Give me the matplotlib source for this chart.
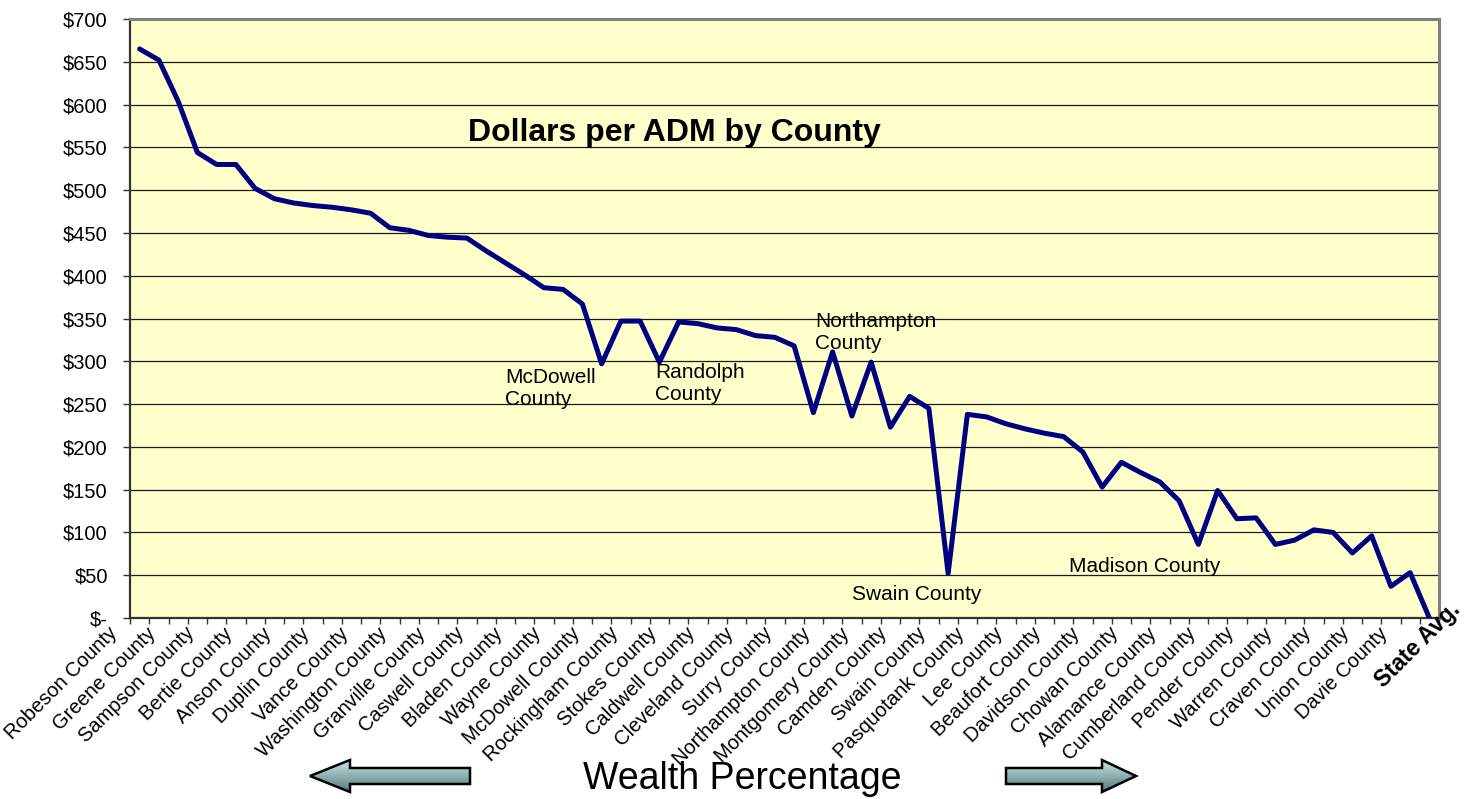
#!/usr/bin/env python
# -*- coding: utf-8 -*-
"""Dollars per ADM by County - line chart with wealth arrows"""

import numpy as np
import matplotlib
matplotlib.use('Agg')
import matplotlib.pyplot as plt
import matplotlib.transforms as mtransforms
from matplotlib.patches import Polygon
from matplotlib.ticker import FuncFormatter, MultipleLocator, FixedLocator

plt.rcParams['font.family'] = ['Liberation Sans', 'DejaVu Sans']

# dollars per ADM, one value per county (68 categories, last = state average)
values = [665, 652, 604, 544, 530, 530, 502, 490, 485, 482,
          480, 477, 473, 456, 453, 447, 445, 444, 429, 415,
          401, 386, 384, 367, 297, 347, 347, 299, 346, 344,
          339, 337, 330, 328, 318, 240, 311, 236, 299, 223,
          259, 245, 52, 238, 235, 227, 221, 216, 212, 194,
          153, 182, 170, 159, 137, 86, 149, 116, 117, 86,
          91, 103, 100, 76, 96, 37, 53, 0]

# only every other category is labelled on the axis
labeled_counties = ['Robeson', 'Greene', 'Sampson', 'Bertie', 'Anson', 'Duplin',
                    'Vance', 'Washington', 'Granville', 'Caswell', 'Bladen',
                    'Wayne', 'McDowell', 'Rockingham', 'Stokes', 'Caldwell',
                    'Cleveland', 'Surry', 'Northampton', 'Montgomery', 'Camden',
                    'Swain', 'Pasquotank', 'Lee', 'Beaufort', 'Davidson',
                    'Chowan', 'Alamance', 'Cumberland', 'Pender', 'Warren',
                    'Craven', 'Union', 'Davie']
tick_labels = [c + ' County' for c in labeled_counties]

W, H = 1469, 799
fig = plt.figure(figsize=(W / 100, H / 100), dpi=100)
ax = fig.add_axes([130 / W, 181 / H, 1309 / W, 599 / H])
ax.set_facecolor('#FFFFCC')

x = np.arange(len(values))
ax.plot(x, values, color='#000080', linewidth=3.6, solid_joinstyle='round',
        solid_capstyle='round', zorder=3)

ax.set_xlim(-0.5, len(values) - 0.5)
ax.set_ylim(0, 700)

# y axis
ax.yaxis.set_major_locator(MultipleLocator(50))
ax.yaxis.set_major_formatter(FuncFormatter(
    lambda v, p: '$-' if v == 0 else '${:d}'.format(int(v))))
ax.yaxis.grid(True, color='#1a1a1a', linewidth=0.9)
ax.set_axisbelow(True)
ax.tick_params(axis='y', direction='out', length=5, width=1, pad=11,
               labelsize=14.5, color='#333333')

# x axis: ticks between categories, labels on every other category
ax.set_xticks(x[::2][:len(tick_labels)])
ax.set_xticklabels(tick_labels)
ax.xaxis.set_minor_locator(FixedLocator(np.arange(-0.5, len(values), 1)))
ax.tick_params(axis='x', which='major', length=0, pad=9, labelsize=14.5)
ax.tick_params(axis='x', which='minor', direction='out', length=4, width=1,
               color='#333333')
offset = mtransforms.ScaledTranslation(-0.25, 0, fig.dpi_scale_trans)
for lbl in ax.get_xticklabels():
    lbl.set_rotation(45)
    lbl.set_ha('right')
    lbl.set_va('center')
    lbl.set_rotation_mode('anchor')
    lbl.set_transform(lbl.get_transform() + offset)

for side in ['left', 'bottom']:
    ax.spines[side].set_color('#333333')
    ax.spines[side].set_linewidth(1.6)
for side in ['top', 'right']:
    ax.spines[side].set_color('#808080')
    ax.spines[side].set_linewidth(2.2)

# title inside the plot
ax.text(0.4156, 0.81, 'Dollars per ADM by County', transform=ax.transAxes,
        ha='center', va='center', fontsize=23, fontweight='bold')

# county call-outs
notes = [('McDowell\nCounty', 18.98, 292, 'top'),
         ('Randolph\nCounty', 26.77, 298, 'top'),
         ('Northampton\nCounty', 35.1, 358, 'top'),
         ('Swain County', 37.0, 27, 'center'),
         ('Madison County', 48.3, 60, 'center')]
for txt, nx, ny, va in notes:
    ax.text(nx, ny, txt, ha='left', va=va, fontsize=15, linespacing=1.2,
            zorder=4)

# state average label
ax.annotate('State Avg.', xy=(len(values) - 1, 0), xytext=(20, 9),
            textcoords='offset points', rotation=45, rotation_mode='anchor',
            ha='right', va='center', fontsize=16.5, fontweight='bold',
            zorder=6, annotation_clip=False)

# x axis title and arrows (pixel overlay)
fig.text(742 / W, 1 - 779 / H, 'Wealth Percentage', ha='center', va='center',
         fontsize=27)

deco = fig.add_axes([0, 0, 1, 1], zorder=5)
deco.set_xlim(0, W)
deco.set_ylim(H, 0)
deco.axis('off')

left_arrow = [(310, 776), (350, 760), (350, 768), (470, 768), (470, 784),
              (350, 784), (350, 792)]
right_arrow = [(1006, 768), (1102, 768), (1102, 760), (1136, 776),
               (1102, 792), (1102, 784), (1006, 784)]

c_top = np.array([0.78, 0.90, 0.90])
c_bot = np.array([0.34, 0.48, 0.48])
grad = np.linspace(0, 1, 64)[:, None, None]
grad = c_top * (1 - grad) + c_bot * grad

for pts in [left_arrow, right_arrow]:
    poly = Polygon(pts, closed=True, facecolor='none', edgecolor='black',
                   linewidth=1.8, zorder=3)
    deco.add_patch(poly)
    xs = [p[0] for p in pts]
    img = deco.imshow(grad, extent=(min(xs), max(xs), 792, 760),
                      aspect='auto', origin='upper', zorder=2)
    img.set_clip_path(poly)

fig.savefig('out.png', dpi=100)
